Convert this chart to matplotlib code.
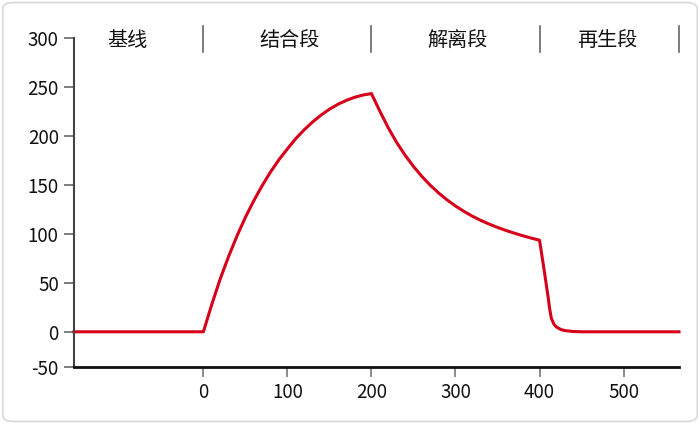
import matplotlib.pyplot as plt
from matplotlib.patches import FancyBboxPatch

plt.rcParams['font.family'] = ['Noto Sans CJK SC', 'DejaVu Sans']

# baseline -> association -> dissociation -> regeneration
base_x = [-154, 0]
base_y = [0, 0]
assoc_x = [0, 10, 20, 30, 40, 50, 60, 70, 80, 90, 100, 110, 120, 130, 140, 150, 160, 170, 180, 190, 200]
assoc_y = [0, 28, 54, 77, 98, 117, 134, 149.5, 163.5, 176, 187, 197.5, 206.5, 214.5, 221.5, 227.5,
           232.5, 236.5, 239.7, 242, 243.5]
dissoc_x = [200, 210, 220, 230, 240, 250, 260, 270, 280, 290, 300, 310, 320, 330, 340, 350, 360, 370, 380, 390, 400]
dissoc_y = [243.5, 225.5, 208.5, 193.5, 180.5, 169, 158.8, 149.8, 141.8, 134.8, 128.6, 123.1, 118.2,
            113.9, 110.1, 106.7, 103.6, 100.8, 98.2, 95.8, 93.6]
regen_x = [400, 405, 410, 412, 414, 417, 420, 425, 430, 440, 450, 566]
regen_y = [93.6, 66, 37, 24, 14, 8, 5, 2.5, 1.2, 0.3, 0, 0]

phase_names = ['基线', '结合段', '解离段', '再生段']
phase_pos = [-90, 102, 303, 481]
phase_edges = [0, 200, 400, 566]

x_ticks = [0, 100, 200, 300, 400, 500]
y_ticks = [0, 50, 100, 150, 200, 250, 300]

xs = base_x + assoc_x[1:] + dissoc_x[1:] + regen_x[1:]
ys = base_y + assoc_y[1:] + dissoc_y[1:] + regen_y[1:]

fig = plt.figure(figsize=(7, 4.24), dpi=100)
fig.patches.append(FancyBboxPatch((0.004, 0.006), 0.992, 0.988, boxstyle='round,pad=0,rounding_size=0.015',
                                  transform=fig.transFigure, fc='white', ec='#d9d9d9', lw=1.2, zorder=-1))
ax = fig.add_axes([0.1057, 0.1351, 0.8643, 0.7746])
ax.set_facecolor('none')

ax.plot(xs, ys, color='#d7001b', lw=2.2, solid_joinstyle='round', clip_on=False)

ymin = -35.7
ax.set_xlim(-154, 566)
ax.set_ylim(ymin, 300)
ax.set_xticks(x_ticks)
ax.set_xticklabels([str(v) for v in x_ticks])
ax.set_yticks([ymin] + y_ticks)
ax.set_yticklabels(['-50'] + [str(v) for v in y_ticks])

for s in ['top', 'right']:
    ax.spines[s].set_visible(False)
ax.spines['left'].set_color('#444444')
ax.spines['left'].set_linewidth(1.5)
ax.spines['bottom'].set_color('#111111')
ax.spines['bottom'].set_linewidth(2)
ax.tick_params(axis='y', length=7, width=1.2, color='#666666', labelsize=13.5, pad=4, labelcolor='#111111')
ax.tick_params(axis='x', length=7, width=1.2, color='#777777', labelsize=13.5, pad=4, labelcolor='#111111')

for name, p in zip(phase_names, phase_pos):
    ax.text(p, 298, name, ha='center', va='center', fontsize=14.5, color='#111111')
for e in phase_edges:
    ax.plot([e, e], [286, 313], color='#666666', lw=1.2, clip_on=False)

fig.savefig('out.png', dpi=100)
